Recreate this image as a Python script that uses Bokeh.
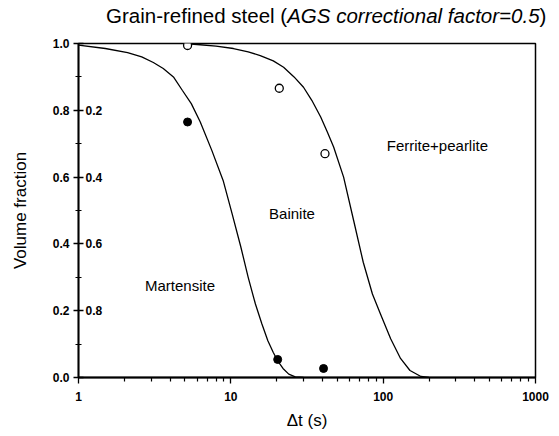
from bokeh.plotting import figure
from bokeh.models import Range1d, FixedTicker, Div
from bokeh.layouts import column
from bokeh.core.properties import value
from bokeh.embed import file_html
from bokeh.resources import INLINE

# ---- data ----
curve1_t = [1.0, 1.5, 2.1, 2.6, 3.1, 3.6, 4.2, 4.8, 5.5, 6.3, 7.5, 8.9, 10.2, 11.6,
            13.0, 14.5, 16.0, 17.5, 19.0, 20.3, 22.0, 24.0, 26.5, 30.0]
curve1_f = [0.995, 0.985, 0.973, 0.96, 0.943, 0.925, 0.90, 0.86, 0.82, 0.765, 0.68, 0.59,
            0.49, 0.393, 0.30, 0.22, 0.16, 0.11, 0.075, 0.05, 0.027, 0.01, 0.002, 0.0]

curve2_t = [5.0, 6.0, 8.0, 10.4, 13.0, 15.6, 19.0, 22.2, 26.0, 30.0, 34.0, 38.9, 43.0,
            47.3, 55.0, 64.0, 74.0, 85.0, 96.0, 112.0, 130.0, 150.0, 177.0, 200.0]
curve2_f = [1.0, 0.997, 0.992, 0.985, 0.975, 0.964, 0.948, 0.929, 0.90, 0.869, 0.83, 0.78,
            0.735, 0.69, 0.60, 0.47, 0.345, 0.25, 0.19, 0.116, 0.057, 0.021, 0.003, 0.0]

open_t = [5.2, 20.8, 41.5]
open_f = [0.994, 0.866, 0.67]

filled_t = [5.2, 20.3, 40.6]
filled_f = [0.765, 0.054, 0.027]

region_names = ["Martensite", "Bainite", "Ferrite+pearlite"]
region_t = [4.64, 25.2, 227.0]
region_f = [0.274, 0.491, 0.696]

x_ticks = [1, 10, 100, 1000]
x_tick_labels = ["1", "10", "100", "1000"]
x_minor = [m * d for d in (1, 10, 100) for m in range(2, 10)]

y_ticks = [0.0, 0.2, 0.4, 0.6, 0.8, 1.0]
y_tick_labels = ["0.0", "0.2", "0.4", "0.6", "0.8", "1.0"]
y_minor = [0.1, 0.3, 0.5, 0.7, 0.9]

inner_ticks = [0.8, 0.6, 0.4, 0.2]
inner_labels = ["0.2", "0.4", "0.6", "0.8"]

title_normal = "Grain-refined steel ("
title_italic = "AGS correctional factor=0.5"
title_close = ")"

FONT = "Liberation Sans"
W = 551
TITLE_H = 32

# ---- title (mixed normal / italic) ----
title = Div(
    text=f"{title_normal}<i>{title_italic}</i>{title_close}",
    width=W, height=TITLE_H, margin=0,
    styles={"font-family": FONT, "font-size": "20.5px", "color": "black",
            "line-height": "32px", "padding-left": "106px",
            "white-space": "nowrap", "box-sizing": "border-box",
            "overflow": "visible"})

# ---- main plot ----
p = figure(width=W, height=400, x_axis_type="log",
           x_range=Range1d(1, 1000), y_range=Range1d(0, 1),
           output_backend="svg", toolbar_location=None,
           min_border_left=78, min_border_right=16,
           min_border_top=11, min_border_bottom=53)
p.title.visible = False
p.xgrid.visible = False
p.ygrid.visible = False
p.outline_line_color = "black"
p.outline_line_width = 1.5
p.background_fill_color = "white"
p.border_fill_color = "white"

xa = p.xaxis[0]
xa.ticker = FixedTicker(ticks=x_ticks, minor_ticks=x_minor)
xa.major_label_overrides = {t: l for t, l in zip(x_ticks, x_tick_labels)}
xa.axis_label = "Δt (s)"
ya = p.yaxis[0]
ya.ticker = FixedTicker(ticks=y_ticks, minor_ticks=y_minor)
ya.major_label_overrides = {t: l for t, l in zip(y_ticks, y_tick_labels)}
ya.axis_label = "Volume fraction"

for ax in (xa, ya):
    ax.axis_line_color = "black"
    ax.axis_line_width = 1.8
    ax.major_tick_line_color = "black"
    ax.minor_tick_line_color = "black"
    ax.major_tick_line_width = 1.3
    ax.minor_tick_line_width = 1.2
    ax.major_label_text_font = FONT
    ax.major_label_text_font_size = "12px"
    ax.major_label_text_font_style = "bold"
    ax.major_label_text_color = "black"
    ax.axis_label_text_font = FONT
    ax.axis_label_text_font_size = "17px"
    ax.axis_label_text_font_style = "normal"
    ax.axis_label_text_color = "black"

xa.major_tick_in = 0
xa.major_tick_out = 6
xa.minor_tick_in = 0
xa.minor_tick_out = 4
xa.major_label_standoff = 8
xa.axis_label_standoff = 7

ya.major_tick_in = 5
ya.major_tick_out = 5
ya.minor_tick_in = 3
ya.minor_tick_out = 3
ya.major_label_standoff = 4
ya.axis_label_standoff = 20

p.line(curve1_t, curve1_f, line_color="black", line_width=1.3)
p.line(curve2_t, curve2_f, line_color="black", line_width=1.3)

p.scatter(open_t, open_f, marker="circle", size=8, fill_color="white",
          line_color="black", line_width=1.3)
p.scatter(filled_t, filled_f, marker="circle", size=8, fill_color="black",
          line_color="black")

p.text(region_t, region_f, text=region_names, text_font=value(FONT),
       text_font_size="15px", text_align="center", text_baseline="middle",
       text_color="black")

p.text([1] * len(inner_ticks), inner_ticks, text=inner_labels,
       text_font=value(FONT), text_font_size="12px", text_font_style="bold",
       text_align="left", text_baseline="middle", text_color="black",
       x_offset=7)

layout = column(title, p, spacing=0)
open("out.html", "w").write(file_html(layout, INLINE))
